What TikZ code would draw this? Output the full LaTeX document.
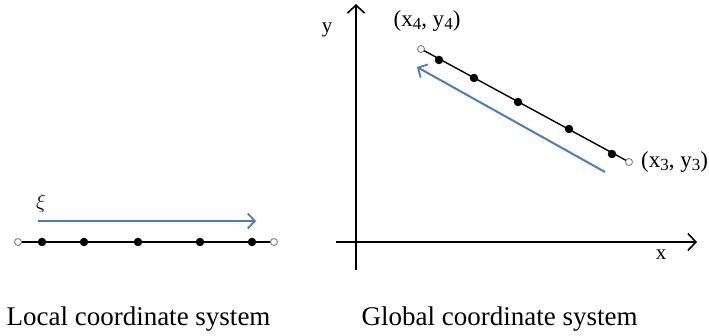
\documentclass[tikz,border=0pt]{standalone}
\usepackage{fontspec}
\setmainfont{Liberation Serif}
\usetikzlibrary{arrows.meta}
\definecolor{arrblue}{RGB}{74,126,187}
\tikzset{
  fdot/.style={circle,fill=black,inner sep=0pt,minimum size=8.5pt},
  odot/.style={circle,draw=gray,fill=white,line width=0.9pt,inner sep=0pt,minimum size=7pt},
  elem/.style={line width=1.4pt,black},
  axis/.style={line width=1.8pt,-{Straight Barb[length=8pt,width=17pt,line width=1.6pt]}},
  blue arrow/.style={line width=2pt,arrblue,-{Straight Barb[length=7pt,width=15pt,line width=1.8pt]}},
  lab/.style={font=\fontsize{21}{23}\selectfont,inner sep=0pt},
  ptlab/.style={font=\fontsize{23}{25}\selectfont,inner sep=0pt},
  captext/.style={font=\fontsize{27}{29}\selectfont,inner sep=0pt,anchor=base}
}
\newcommand{\subi}[1]{\raisebox{-0.25ex}{\fontsize{17}{18}\selectfont #1}}
\begin{document}
\begin{tikzpicture}[x=1pt,y=-1pt]
\useasboundingbox (0,0) rectangle (709,336);
% local element
\coordinate (l0) at (18,242);
\coordinate (l6) at (274,242);
\draw[elem] (l0) -- (l6);
\node[odot] (L0) at (l0) {};
\node[fdot] (L1) at (42,242) {};
\node[fdot] (L2) at (84,242) {};
\node[fdot] (L3) at (138,242) {};
\node[fdot] (L4) at (200,242) {};
\node[fdot] (L5) at (252,242) {};
\node[odot] (L6) at (l6) {};
\coordinate (xa) at (38,221);
\coordinate (xb) at (256,221);
\draw[blue arrow] (xa) -- (xb);
\node[lab,font=\fontsize{20}{22}\selectfont] (xi) at (41,203) {$\xi$};
% axes
\coordinate (ybot) at (356,270);
\coordinate (ytop) at (356,4);
\coordinate (xleft) at (336,242);
\coordinate (xright) at (697,242);
\draw[axis] (ybot) -- (ytop);
\draw[axis] (xleft) -- (xright);
\node[lab] (ylab) at (327,30) {y};
\node[lab] (xlab) at (661,255) {x};
% global element
\coordinate (g0) at (421,49);
\coordinate (g6) at (629,162);
\draw[elem] (g0) -- (g6);
\node[odot] (G0) at (g0) {};
\node[fdot] (G1) at (439,60) {};
\node[fdot] (G2) at (474,78) {};
\node[fdot] (G3) at (518,102) {};
\node[fdot] (G4) at (569,129) {};
\node[fdot] (G5) at (612,154) {};
\node[odot] (G6) at (g6) {};
\coordinate (ba) at (605,172);
\coordinate (bb) at (417,67);
\draw[blue arrow] (ba) -- (bb);
\node[ptlab] (p4) at (427,21) {(x\subi{4}, y\subi{4})};
\node[ptlab,anchor=west] (p3) at (641,162) {(x\subi{3}, y\subi{3})};
% captions
\node[captext] (c1) at (138.5,326) {Local coordinate system};
\node[captext] (c2) at (499.5,326) {Global coordinate system};
\end{tikzpicture}
\end{document}
